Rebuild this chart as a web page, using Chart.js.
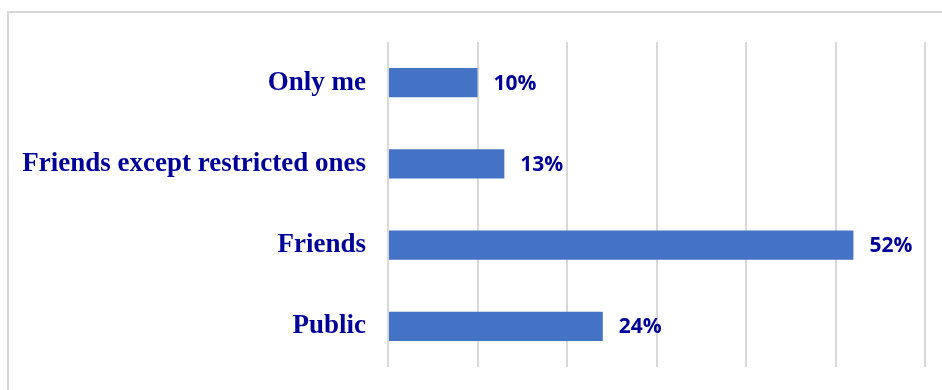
<!DOCTYPE html>
<html>
<head>
<meta charset="utf-8">
<script src="https://cdn.jsdelivr.net/npm/chart.js@4.4.1/dist/chart.umd.min.js"></script>
<style>
  html, body { margin: 0; padding: 0; background: #fff; }
  #wrap { width: 942px; height: 390px; }
</style>
</head>
<body>
<div id="wrap"><canvas id="privacy" width="942" height="390"></canvas></div>
<script>
const categories = ['Only me', 'Friends except restricted ones', 'Friends', 'Public'];
const shares = [10, 13, 52, 24];
const axisTicks = [0, 10, 20, 30, 40, 50, 60];

const textBlue = '#000099';
const barBlue = '#4472C4';

// light frame around the whole chart
const framePlugin = {
    id: 'frame',
    beforeDraw(chart) {
        const c = chart.ctx;
        c.save();
        c.strokeStyle = '#d9d9d9';
        c.lineWidth = 2;
        c.strokeRect(8, 12, 1000, 1000);
        c.restore();
    }
};

// percent labels to the right of each bar
const valueLabels = {
    id: 'valueLabels',
    afterDatasetsDraw(chart) {
        const c = chart.ctx;
        const meta = chart.getDatasetMeta(0);
        c.save();
        c.font = 'bold 21px "Open Sans"';
        c.fillStyle = textBlue;
        c.textAlign = 'left';
        c.textBaseline = 'middle';
        meta.data.forEach((bar, i) => {
            c.fillText(shares[i] + '%', bar.x + 16, bar.y + 1);
        });
        c.restore();
    }
};

const ctx = document.getElementById('privacy');

new Chart(ctx, {
    type: 'bar',
    data: {
        labels: categories,
        datasets: [{
            data: shares,
            backgroundColor: barBlue,
            borderWidth: 0,
            categoryPercentage: 1,
            barPercentage: 0.357
        }]
    },
    options: {
        indexAxis: 'y',
        responsive: false,
        animation: false,
        layout: {
            padding: { left: 0, right: 17, top: 42, bottom: 23 }
        },
        plugins: {
            legend: { display: false },
            tooltip: { enabled: false }
        },
        scales: {
            x: {
                min: axisTicks[0],
                max: axisTicks[axisTicks.length - 1],
                afterBuildTicks(scale) {
                    scale.ticks = axisTicks.map(v => ({ value: v }));
                },
                afterFit(scale) {
                    scale.height = 0;
                    scale.paddingLeft = 0;
                    scale.paddingRight = 0;
                },
                ticks: { display: false },
                border: { display: false },
                grid: {
                    color: '#d9d9d9',
                    lineWidth: 2,
                    drawTicks: false
                }
            },
            y: {
                afterFit(scale) {
                    scale.width = 388;
                    scale.paddingTop = 0;
                    scale.paddingBottom = 0;
                },
                border: { display: false },
                grid: { display: false, drawTicks: false },
                ticks: {
                    padding: 22,
                    color: textBlue,
                    font: {
                        family: '"Liberation Serif", "Times New Roman", serif',
                        size: 27,
                        weight: 'bold'
                    }
                }
            }
        }
    },
    plugins: [framePlugin, valueLabels]
});
</script>
</body>
</html>
